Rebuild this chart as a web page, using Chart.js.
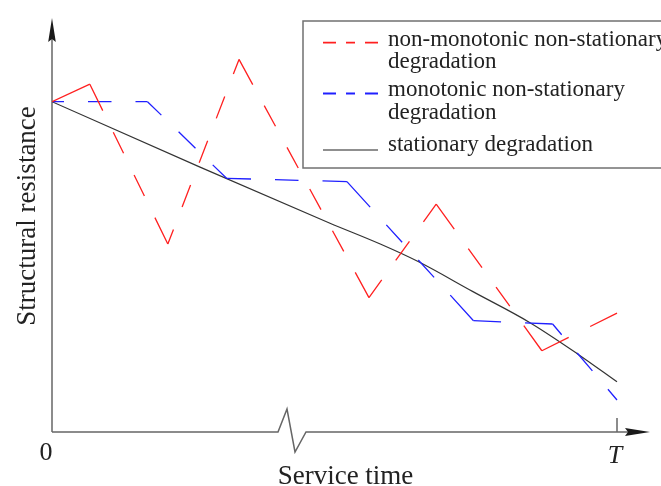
<!DOCTYPE html>
<html>
<head>
<meta charset="utf-8">
<script src="https://cdn.jsdelivr.net/npm/chart.js@4/dist/chart.umd.min.js"></script>
<style>
  html, body { margin: 0; padding: 0; background: #ffffff; }
  #wrap { width: 661px; height: 486px; }
</style>
</head>
<body>
<div id="wrap"><canvas id="chart" width="661" height="486"></canvas></div>
<script>
// Service time in units where T = 10; resistance relative to its initial value (R0 = 1).
const timeNonMonotonic = [0, 0.67, 2.05, 3.31, 5.61, 6.80, 8.67, 10];
const resNonMonotonic  = [1.0, 1.053, 0.569, 1.128, 0.407, 0.690, 0.246, 0.360];

const timeMonotonic = [0, 1.69, 3.09, 5.22, 7.46, 8.86, 10];
const resMonotonic  = [1.0, 1.0, 0.768, 0.758, 0.337, 0.327, 0.097];

const timeStationary = [0, 2.62, 4.92, 5.81, 6.48, 7.45, 8.46, 9.29, 10];
const resStationary  = [1.0, 0.802, 0.632, 0.569, 0.516, 0.425, 0.331, 0.238, 0.152];

const seriesLabels = [
  ['non-monotonic non-stationary', 'degradation'],
  ['monotonic non-stationary', 'degradation'],
  ['stationary degradation']
];
const seriesColors = ['#ff2020', '#2020ff', '#333333'];

const xTickValues = [0, 10];
const xTickLabels = ['0', 'T'];
const xAxisTitle = 'Service time';
const yAxisTitle = 'Structural resistance';
const xBreakAt = 4.0;

const SERIF = '"Liberation Serif", "Times New Roman", serif';
const INK = '#222222';

// Centred dash pattern: each straight piece starts and ends on a dash,
// too-short pieces stay solid.
function centredDash(len, dash, gap) {
  let n = Math.max(0, Math.floor((len - gap) / (dash + gap)));
  for (; n >= 0; n--) {
    const e = (len - n * dash - (n + 1) * gap) / 2;
    if (e >= dash / 2) {
      const arr = [e, gap];
      for (let i = 0; i < n; i++) arr.push(dash, gap);
      arr.push(e + 1000);
      return arr;
    }
  }
  return [];
}
const PLOT_DASH = 23.5, PLOT_GAP = 24;
const segDash = (c) => centredDash(Math.hypot(c.p1.x - c.p0.x, c.p1.y - c.p0.y), PLOT_DASH, PLOT_GAP);

const toPoints = (xs, ys) => xs.map((x, i) => ({ x, y: ys[i] }));

// Axes with arrowheads, the axis break, tick labels and titles
const axesPlugin = {
  id: 'axesPlugin',
  beforeDatasetsDraw(chart) {
    const { ctx, chartArea: a, scales: { x, y } } = chart;
    const x0 = x.getPixelForValue(0);
    const y0 = y.getPixelForValue(0);
    const xb = x.getPixelForValue(xBreakAt);
    ctx.save();
    ctx.strokeStyle = '#666666';
    ctx.lineWidth = 1.5;
    ctx.lineJoin = 'miter';
    // vertical axis
    ctx.beginPath();
    ctx.moveTo(x0, y0);
    ctx.lineTo(x0, a.top + 12);
    ctx.stroke();
    // horizontal axis with break
    ctx.beginPath();
    ctx.moveTo(x0, y0);
    ctx.lineTo(xb, y0);
    ctx.lineTo(xb + 9, y0 - 23);
    ctx.lineTo(xb + 17, y0 + 20);
    ctx.lineTo(xb + 28, y0);
    ctx.lineTo(a.right - 14, y0);
    ctx.stroke();
    // tick at T
    const xT = x.getPixelForValue(xTickValues[1]);
    ctx.beginPath();
    ctx.moveTo(xT, y0);
    ctx.lineTo(xT, y0 - 14);
    ctx.stroke();
    // arrowheads
    ctx.fillStyle = '#1a1a1a';
    ctx.beginPath();
    ctx.moveTo(x0, a.top);
    ctx.lineTo(x0 - 3.8, a.top + 24);
    ctx.lineTo(x0, a.top + 21);
    ctx.lineTo(x0 + 3.8, a.top + 24);
    ctx.closePath();
    ctx.fill();
    ctx.beginPath();
    ctx.moveTo(a.right, y0);
    ctx.lineTo(a.right - 25, y0 - 4);
    ctx.lineTo(a.right - 22, y0);
    ctx.lineTo(a.right - 25, y0 + 4);
    ctx.closePath();
    ctx.fill();

    // tick labels
    ctx.fillStyle = INK;
    ctx.textBaseline = 'alphabetic';
    ctx.textAlign = 'center';
    ctx.font = '26px ' + SERIF;
    ctx.fillText(xTickLabels[0], x0 - 6, y0 + 28);
    ctx.font = 'italic 26px ' + SERIF;
    ctx.fillText(xTickLabels[1], xT - 2, y0 + 31);

    // axis titles
    ctx.font = '27px ' + SERIF;
    ctx.fillText(xAxisTitle, 345.5, 484);
    ctx.save();
    ctx.translate(34.5, 216);
    ctx.rotate(-Math.PI / 2);
    ctx.fillText(yAxisTitle, 0, 0);
    ctx.restore();
    ctx.restore();
  }
};

// Boxed legend in the upper right corner
const legendPlugin = {
  id: 'boxLegend',
  afterDatasetsDraw(chart) {
    const { ctx } = chart;
    const box = { left: 303, top: 21, right: 720, bottom: 168 };
    const rows = [
      { line: 42.7, text: [46, 68] },
      { line: 93.5, text: [96, 119] },
      { line: 150, text: [151] }
    ];
    ctx.save();
    ctx.fillStyle = '#ffffff';
    ctx.fillRect(box.left, box.top, box.right - box.left, box.bottom - box.top);
    ctx.strokeStyle = '#707070';
    ctx.lineWidth = 1.5;
    ctx.strokeRect(box.left, box.top, box.right - box.left, box.bottom - box.top);
    const lx0 = 323, lx1 = 378;
    rows.forEach((r, i) => {
      ctx.strokeStyle = i === 2 ? '#6a6a6a' : seriesColors[i];
      ctx.lineWidth = i === 2 ? 1.6 : 1.8;
      ctx.setLineDash(i === 2 ? [] : centredDash(lx1 - lx0, 9, 10));
      ctx.beginPath();
      ctx.moveTo(lx0, r.line);
      ctx.lineTo(lx1, r.line);
      ctx.stroke();
      ctx.setLineDash([]);
      ctx.fillStyle = INK;
      ctx.font = '23px ' + SERIF;
      ctx.textAlign = 'left';
      seriesLabels[i].forEach((t, k) => ctx.fillText(t, 388, r.text[k]));
    });
    ctx.restore();
  }
};

const lineStyle = (color, dashed) => ({
  borderColor: color,
  borderWidth: 1.3,
  pointRadius: 0,
  fill: false,
  tension: 0,
  segment: dashed ? { borderDash: segDash } : undefined
});

new Chart(document.getElementById('chart'), {
  type: 'line',
  data: {
    datasets: [
      Object.assign({ label: seriesLabels[0].join(' '), data: toPoints(timeNonMonotonic, resNonMonotonic) }, lineStyle(seriesColors[0], true)),
      Object.assign({ label: seriesLabels[1].join(' '), data: toPoints(timeMonotonic, resMonotonic) }, lineStyle(seriesColors[1], true)),
      Object.assign({ label: seriesLabels[2][0], data: toPoints(timeStationary, resStationary), cubicInterpolationMode: 'monotone' }, lineStyle(seriesColors[2], false), { borderWidth: 1.2 })
    ]
  },
  options: {
    responsive: false,
    devicePixelRatio: 1,
    animation: false,
    layout: { padding: { left: 52, right: 11, top: 18, bottom: 54 } },
    scales: {
      x: { type: 'linear', min: 0, max: 10.584, display: false },
      y: { type: 'linear', min: 0, max: 1.2534, display: false }
    },
    plugins: { legend: { display: false }, tooltip: { enabled: false } }
  },
  plugins: [axesPlugin, legendPlugin]
});
</script>
</body>
</html>
